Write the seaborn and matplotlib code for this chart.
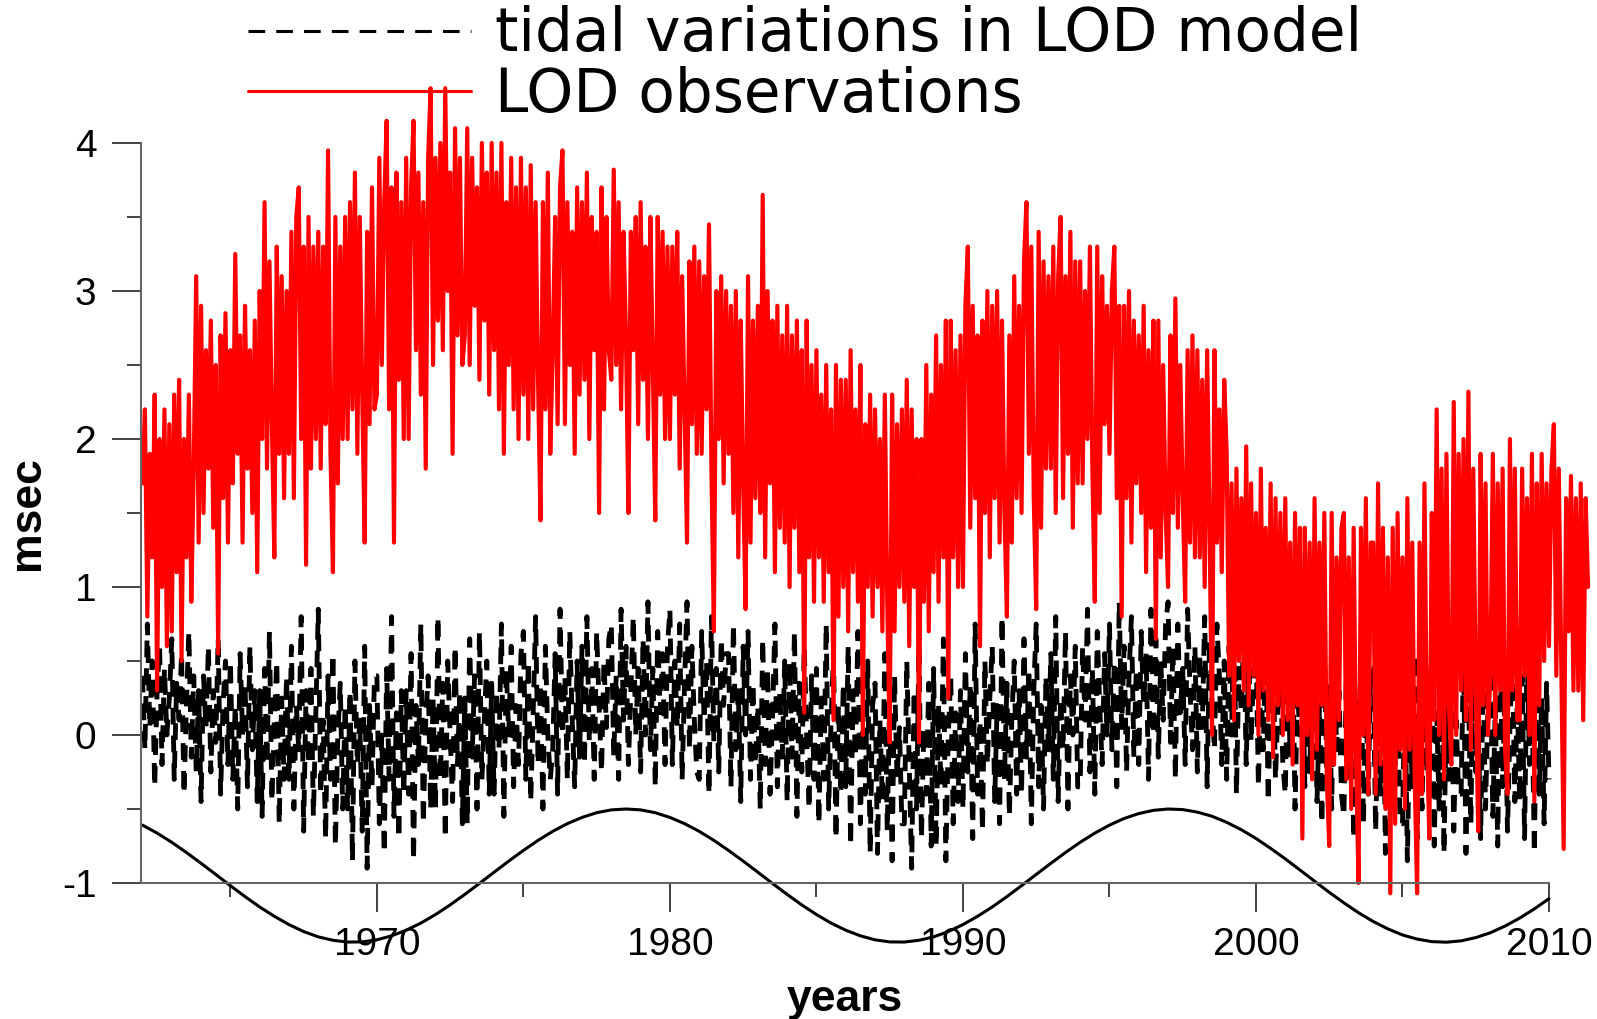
import numpy as np
import pandas as pd
import matplotlib
import matplotlib.pyplot as plt
from matplotlib.lines import Line2D
from matplotlib.ticker import MultipleLocator
import seaborn as sns

matplotlib.use('Agg')

# LOD observations, 12 samples per year from 1962.0 (msec)
red_start, red_step = 1962.0, 1 / 12
red_lod = [
    1.7, 2.2, 0.8, 1.9, 1.2, 2.3, 0.3, 2.0, 1.0, 2.2, 0.6, 2.1,         # 1962
    0.7, 2.3, 1.1, 2.4, 0.5, 2.0, 1.2, 2.3, 0.9, 1.8, 3.1, 1.3,
    2.9, 1.5, 2.6, 1.8, 2.8, 1.4, 2.5, 0.55, 2.7, 1.6, 2.85, 1.3,
    2.6, 1.7, 3.25, 1.9, 2.7, 1.3, 2.9, 1.8, 2.6, 1.5, 2.8, 1.1,       # 1965
    3.0, 2.0, 3.6, 1.8, 3.2, 2.1, 1.2, 3.3, 1.9, 3.1, 1.6, 3.0,
    1.9, 3.4, 1.6, 3.5, 3.7, 2.0, 3.3, 1.15, 3.5, 1.8, 3.3, 2.0,
    3.4, 1.8, 3.3, 2.1, 3.95, 1.9, 1.1, 3.5, 1.7, 3.3, 2.0, 3.5,
    2.0, 3.6, 2.2, 3.8, 1.9, 3.5, 2.3, 1.3, 3.4, 2.1, 3.7, 2.2,
    2.3, 3.9, 2.5, 3.6, 4.15, 2.2, 3.7, 1.3, 3.8, 2.4, 3.6, 2.0,       # 1970
    3.9, 2.0, 3.7, 4.15, 2.6, 3.8, 2.3, 3.6, 1.8, 3.9, 4.37, 2.5,
    3.9, 2.8, 4.0, 2.6, 4.37, 3.0, 3.8, 1.9, 4.1, 2.7, 3.9, 2.5,
    2.7, 4.1, 2.5, 3.9, 2.9, 3.7, 2.4, 4.0, 2.8, 3.8, 2.3, 4.0,
    2.6, 3.8, 2.2, 4.0, 1.9, 3.6, 2.5, 3.9, 2.2, 3.7, 2.0, 3.9,
    2.3, 3.7, 2.0, 3.85, 2.2, 3.6, 2.4, 1.45, 3.6, 2.2, 3.8, 1.9,      # 1975
    2.6, 3.5, 2.1, 3.7, 3.95, 2.1, 3.6, 2.5, 3.4, 1.9, 3.7, 2.3,
    3.6, 2.4, 3.8, 2.0, 3.5, 2.6, 3.4, 1.5, 3.7, 2.2, 3.5, 2.6,
    2.4, 3.82, 2.5, 3.6, 2.2, 3.4, 2.7, 1.5, 3.4, 2.6, 3.5, 2.1,
    3.6, 2.4, 3.3, 2.0, 3.5, 2.5, 1.45, 3.5, 2.3, 3.4, 2.0, 3.3,
    2.0, 3.3, 2.3, 3.4, 1.8, 3.1, 2.2, 1.3, 3.2, 2.1, 3.3, 1.9,        # 1980
    3.2, 1.9, 3.1, 2.2, 3.45, 1.8, 0.7, 3.0, 2.0, 3.1, 1.7, 3.0,
    1.9, 2.9, 1.5, 3.0, 1.2, 2.8, 1.7, 0.85, 3.1, 1.3, 2.8, 1.6,
    2.9, 1.5, 3.65, 1.2, 3.0, 1.7, 2.8, 1.1, 2.9, 1.4, 2.7, 1.3,
    2.9, 1.0, 2.7, 1.4, 2.8, 1.1, 2.6, 0.15, 2.8, 1.2, 2.5, 0.9,
    2.6, 1.2, 2.3, 0.9, 2.5, 1.1, 2.2, 0.1, 2.5, 0.8, 2.4, 1.0,        # 1985
    2.4, 0.7, 2.6, 1.1, 2.2, 0.9, 2.5, 0.0, 2.1, 1.0, 2.3, 0.8,
    2.2, 1.0, 2.0, 0.7, 2.3, 0.9, -0.05, 2.3, 0.7, 2.1, 1.0, 2.2,
    0.9, 2.4, 0.6, 2.2, 1.0, 2.0, -0.05, 2.0, 0.9, 2.5, 0.7, 2.3,
    1.1, 2.7, 0.9, 2.5, 1.2, 2.8, 0.25, 2.8, 1.2, 2.6, 1.0, 2.7,
    1.0, 2.9, 3.3, 1.4, 2.9, 1.6, 2.7, 0.6, 2.8, 1.5, 3.0, 1.2,        # 1990
    2.9, 1.6, 3.0, 1.3, 2.8, 1.5, 0.8, 2.7, 1.3, 3.1, 1.6, 2.9,
    1.5, 3.2, 3.6, 1.9, 3.3, 1.6, 0.85, 3.4, 1.4, 3.2, 1.8, 3.1,
    1.8, 3.3, 1.5, 3.1, 3.5, 1.6, 3.1, 1.9, 3.4, 1.4, 3.2, 1.7,
    3.2, 1.7, 3.0, 2.0, 3.3, 1.8, 0.9, 3.3, 1.5, 3.1, 2.1, 2.9,
    1.9, 3.0, 3.3, 1.6, 2.9, 0.8, 2.9, 1.6, 3.0, 1.3, 2.8, 1.7,        # 1995
    2.7, 1.5, 2.9, 1.1, 2.6, 1.4, 2.8, 0.65, 2.8, 1.2, 2.5, 1.5,
    1.0, 2.7, 1.5, 2.95, 1.4, 2.5, 1.6, 0.9, 2.6, 1.3, 2.7, 1.2,
    2.6, 1.2, 2.4, 1.0, 2.6, 1.4, 0.0, 2.6, 1.3, 2.2, 1.1, 2.4,
    1.9, 0.4, 1.7, 0.1, 1.8, 0.5, 1.6, 0.3, 1.95, 0.2, 1.7, 0.4,
    1.5, 0.0, 1.8, 0.3, 1.4, 0.1, 1.7, -0.15, 1.6, 0.2, 1.5, 0.0,      # 2000
    1.6, 0.1, 1.3, -0.2, 1.5, 0.2, 1.4, -0.7, 1.4, 0.0, 1.3, -0.3,
    1.6, -0.1, 1.3, 0.2, 1.5, -0.3, -0.75, 1.5, -0.2, 1.2, 0.1, 1.4,
    1.5, -0.3, 1.2, -0.5, 1.4, -0.2, -1.0, 1.4, 0.0, 1.6, -0.4, 1.3,
    1.3, -0.4, 1.7, -0.2, 1.4, -0.5, 1.2, -1.07, 1.4, -0.6, 1.5, -0.1,
    1.2, -0.5, 1.6, -0.1, 1.3, -0.3, -1.07, 1.3, -0.4, 1.7, 0.0, -0.7,  # 2005
    1.5, 0.1, 2.2, 0.0, 1.8, -0.3, 1.9, 0.2, -0.2, 2.25, 0.0, 1.9,
    0.3, 2.0, 0.1, 2.32, -0.1, 1.8, 0.3, -0.65, 1.9, 0.2, 1.7, 0.0,
    0.4, 1.9, 0.0, 1.7, 0.3, 1.8, -0.1, -0.4, 2.0, 0.3, 1.8, 0.1,
    0.1, 1.8, 0.4, 1.6, 0.0, 1.9, -0.45, 1.7, 0.2, 1.9, 0.5, 1.7,
    0.6, 1.8, 2.1, 0.4, 1.8, 0.5, -0.77, 1.6, 0.7, 1.75, 0.3, 1.6,     # 2010
    0.3, 1.7, 0.1, 1.6, 1.0,
]

# tidal variations in LOD model, 12 samples per year from 1962.0 (msec)
tide_start, tide_step = 1962.0, 1 / 12
tidal_model = [
    0.4, -0.1, 0.75, 0.05, 0.5, -0.35, 0.3, 0.6, -0.2, 0.45, 0.0, 0.25,       # 1962
    0.65, -0.3, 0.35, 0.1, 0.55, -0.4, 0.2, 0.7, -0.15, 0.4, -0.25, 0.3,
    -0.45, 0.4, 0.05, 0.6, -0.25, 0.3, -0.05, 0.65, -0.4, 0.2, 0.5, -0.2,
    0.5, -0.3, 0.2, -0.5, 0.55, 0.0, 0.35, -0.35, 0.6, -0.1, 0.3, -0.45,      # 1965
    0.3, -0.55, 0.45, -0.2, 0.7, -0.45, 0.1, 0.5, -0.6, 0.25, -0.3, 0.4,
    -0.3, 0.6, -0.5, 0.2, -0.1, 0.8, -0.65, 0.3, -0.2, 0.45, -0.55, 0.15,
    0.85, -0.4, 0.1, -0.7, 0.4, -0.3, 0.55, -0.75, 0.0, 0.35, -0.5, 0.2,
    -0.5, 0.3, -0.85, 0.5, -0.2, 0.1, -0.65, 0.6, -0.9, 0.2, -0.35, 0.4,
    0.4, -0.6, 0.0, -0.8, 0.45, -0.3, 0.8, -0.55, 0.15, -0.7, 0.3, -0.4,      # 1970
    0.3, -0.4, 0.55, -0.85, 0.2, -0.2, 0.75, -0.6, 0.1, 0.4, -0.5, 0.25,
    -0.5, 0.8, -0.3, 0.35, -0.7, 0.5, 0.0, -0.45, 0.6, -0.2, 0.3, -0.6,
    0.25, -0.6, 0.65, -0.15, 0.4, -0.5, 0.7, -0.3, 0.1, 0.5, -0.4, 0.35,
    -0.4, 0.3, -0.1, 0.75, -0.55, 0.45, 0.0, 0.6, -0.35, 0.2, -0.2, 0.55,
    0.7, -0.3, 0.5, -0.45, 0.15, 0.8, -0.2, 0.35, -0.5, 0.6, 0.0, -0.3,       # 1975
    -0.1, 0.55, -0.4, 0.85, 0.0, 0.4, -0.3, 0.7, 0.1, -0.35, 0.5, -0.15,
    0.6, -0.2, 0.8, -0.05, 0.45, -0.3, 0.7, 0.2, -0.25, 0.5, 0.05, 0.65,
    0.75, -0.15, 0.4, -0.3, 0.85, 0.1, 0.6, -0.2, 0.3, 0.8, 0.0, 0.45,
    -0.25, 0.65, 0.0, 0.9, -0.1, 0.45, -0.35, 0.7, 0.15, 0.55, -0.2, 0.6,
    0.85, -0.2, 0.5, 0.05, 0.75, -0.3, 0.35, 0.9, -0.1, 0.6, 0.1, -0.25,      # 1980
    -0.3, 0.7, 0.1, 0.5, -0.4, 0.8, -0.05, 0.45, -0.25, 0.65, 0.2, 0.55,
    0.55, -0.35, 0.75, -0.1, 0.3, -0.45, 0.6, 0.0, 0.7, -0.3, 0.35, -0.2,
    0.2, -0.5, 0.65, -0.2, 0.45, -0.4, 0.1, 0.75, -0.35, 0.3, -0.15, 0.5,
    -0.45, 0.5, -0.15, 0.7, -0.55, 0.35, -0.25, 0.6, 0.0, -0.5, 0.4, -0.3,
    0.45, -0.6, 0.25, -0.3, 0.75, -0.5, 0.1, 0.55, -0.7, 0.2, -0.4, 0.35,     # 1985
    -0.35, 0.6, -0.75, 0.3, -0.15, 0.7, -0.6, 0.15, -0.4, 0.5, -0.8, 0.2,
    0.35, -0.8, 0.1, -0.45, 0.55, -0.65, 0.25, -0.85, 0.4, -0.3, 0.05, -0.6,
    -0.6, 0.5, -0.2, -0.9, 0.3, -0.5, 0.6, -0.7, 0.05, -0.4, 0.35, -0.75,
    0.45, -0.75, 0.2, -0.35, 0.65, -0.85, 0.0, 0.4, -0.6, 0.15, -0.45, 0.3,
    -0.5, 0.55, -0.25, 0.35, -0.7, 0.75, -0.4, 0.1, -0.65, 0.5, -0.2, 0.25,   # 1990
    0.6, -0.45, 0.2, -0.6, 0.8, -0.3, 0.35, -0.55, 0.1, 0.5, -0.4, 0.3,
    -0.4, 0.65, -0.15, 0.45, -0.6, 0.3, 0.75, -0.35, 0.2, -0.5, 0.4, -0.1,
    0.55, -0.3, 0.8, -0.45, 0.25, -0.1, 0.7, -0.5, 0.4, 0.0, 0.6, -0.35,
    -0.35, 0.6, 0.1, 0.85, -0.25, 0.45, -0.4, 0.7, 0.2, -0.2, 0.55, 0.0,
    0.75, -0.1, 0.5, -0.35, 0.9, 0.05, 0.6, -0.25, 0.4, 0.8, -0.15, 0.45,     # 1995
    -0.2, 0.7, 0.2, 0.55, -0.3, 0.85, 0.0, 0.65, -0.15, 0.5, 0.1, 0.75,
    0.9, -0.05, 0.6, -0.3, 0.75, 0.15, 0.45, -0.2, 0.85, 0.3, -0.1, 0.6,
    -0.25, 0.55, 0.05, 0.8, -0.35, 0.65, 0.2, -0.1, 0.75, 0.4, -0.2, 0.5,
    -0.3, 0.6, 0.0, 0.85, -0.4, 0.45, 0.15, 0.7, -0.2, 0.55, -0.05, 0.4,
    0.65, -0.35, 0.4, -0.1, 0.7, -0.45, 0.25, 0.55, -0.3, 0.2, 0.5, -0.2,     # 2000
    -0.4, 0.5, -0.15, 0.65, -0.5, 0.3, 0.0, 0.6, -0.35, 0.45, -0.25, 0.35,
    0.55, -0.45, 0.2, -0.6, 0.6, -0.25, 0.35, -0.5, 0.7, -0.1, 0.3, -0.4,
    -0.55, 0.4, -0.3, 0.65, -0.7, 0.25, -0.15, 0.55, -0.6, 0.3, -0.4, 0.45,
    0.45, -0.65, 0.1, -0.4, 0.6, -0.8, 0.3, -0.5, 0.5, -0.2, 0.2, -0.6,
    -0.6, 0.35, -0.85, 0.2, -0.35, 0.55, -0.7, 0.05, -0.5, 0.4, -0.25, 0.3,   # 2005
    0.5, -0.75, 0.15, -0.5, 0.6, -0.8, 0.25, -0.3, 0.45, -0.65, 0.1, -0.4,
    -0.4, 0.55, -0.8, 0.3, -0.6, 0.65, -0.25, 0.1, -0.7, 0.4, -0.5, 0.2,
    0.5, -0.55, 0.2, -0.75, 0.6, -0.35, 0.35, -0.65, 0.05, 0.55, -0.45, 0.25,
    -0.45, 0.4, -0.7, 0.6, -0.2, 0.3, -0.8, 0.5, -0.4, 0.25, -0.6, 0.35,
    -0.3,                                                                      # 2010
]

# 18.6-year cycle curve, two values per year from 1962.0
cycle_start, cycle_step = 1962.0, 0.5
cycle_186 = [
    -0.609, -0.663, -0.725, -0.794, -0.867, -0.942, -1.018, -1.092, -1.162, -1.225,   # 1962
    -1.281, -1.328, -1.364, -1.387, -1.399, -1.398, -1.384, -1.357, -1.319, -1.271,   # 1967
    -1.213, -1.148, -1.077, -1.003, -0.927, -0.852, -0.780, -0.712, -0.651, -0.599,   # 1972
    -0.557, -0.525, -0.506, -0.500, -0.506, -0.525, -0.557, -0.599, -0.651, -0.712,   # 1977
    -0.780, -0.852, -0.927, -1.003, -1.077, -1.148, -1.213, -1.271, -1.319, -1.357,   # 1982
    -1.384, -1.398, -1.399, -1.387, -1.364, -1.328, -1.281, -1.225, -1.162, -1.092,   # 1987
    -1.018, -0.942, -0.867, -0.794, -0.725, -0.663, -0.609, -0.564, -0.531, -0.509,   # 1992
    -0.500, -0.504, -0.521, -0.549, -0.590, -0.640, -0.699, -0.766, -0.837, -0.912,   # 1997
    -0.988, -1.063, -1.134, -1.201, -1.260, -1.310, -1.351, -1.379, -1.396, -1.400,   # 2002
    -1.391, -1.369, -1.336, -1.291, -1.237, -1.175, -1.106,                           # 2007
]

red_df = pd.DataFrame({'year': red_start + np.arange(len(red_lod)) * red_step, 'lod': red_lod})
tide_df = pd.DataFrame({'year': tide_start + np.arange(len(tidal_model)) * tide_step, 'lod': tidal_model})
cycle_df = pd.DataFrame({'year': cycle_start + np.arange(len(cycle_186)) * cycle_step, 'lod': cycle_186})

sns.set_style('ticks')
plt.rcParams['font.family'] = ['Liberation Sans', 'DejaVu Sans']
plt.rcParams['axes.unicode_minus'] = False
plt.rcParams['lines.scale_dashes'] = False
plt.rcParams['text.color'] = 'black'
plt.rcParams['axes.labelcolor'] = 'black'

W, H = 1597, 1019
fig = plt.figure(figsize=(W / 100, H / 100), dpi=100)
ax = fig.add_axes([141 / W, 136 / H, 1408 / W, 740 / H])

dash = (12, 8)
sns.lineplot(data=tide_df, x='year', y='lod', ax=ax, color='black', linewidth=3.5,
             estimator=None, sort=False, clip_on=False)
ax.lines[-1].set_dashes(dash)
sns.lineplot(data=cycle_df, x='year', y='lod', ax=ax, color='black', linewidth=2.2,
             estimator=None, sort=False, clip_on=False)
sns.lineplot(data=red_df, x='year', y='lod', ax=ax, color='#ff0000', linewidth=3.0,
             estimator=None, sort=False, clip_on=False)

ax.set_xlim(1961.95, 2010)
ax.set_ylim(-1, 4)
ax.xaxis.set_major_locator(MultipleLocator(10))
ax.xaxis.set_minor_locator(MultipleLocator(5))
ax.yaxis.set_major_locator(MultipleLocator(1))
ax.yaxis.set_minor_locator(MultipleLocator(0.5))

sns.despine(ax=ax)
for side in ['left', 'bottom']:
    ax.spines[side].set_color('#666666')
    ax.spines[side].set_linewidth(1.5)
ax.tick_params(which='major', length=21, width=1.3, color='#333333', labelcolor='black',
               labelsize=28, pad=11, direction='out', bottom=True, left=True)
ax.tick_params(which='minor', length=10, width=1.3, color='#333333', direction='out',
               bottom=True, left=True)

ax.set_xlabel('years', fontsize=32, fontweight='bold')
ax.set_ylabel('msec', fontsize=32, fontweight='bold')
ax.xaxis.set_label_coords(0.5, -0.130)
ax.yaxis.set_label_coords(-0.066, 0.5)

handles = [Line2D([], [], color='black', linewidth=2.2, dashes=dash),
           Line2D([], [], color='#ff0000', linewidth=2.2)]
fig.legend(handles, ['tidal variations in LOD model', 'LOD observations'],
           loc='upper left', bbox_to_anchor=(248 / W, 1 - 5.5 / H), frameon=False,
           borderpad=0, borderaxespad=0, handlelength=3.73, handletextpad=0.4,
           labelspacing=0.03, prop={'family': 'DejaVu Sans', 'size': 43})

fig.savefig('out.png', dpi=100)
